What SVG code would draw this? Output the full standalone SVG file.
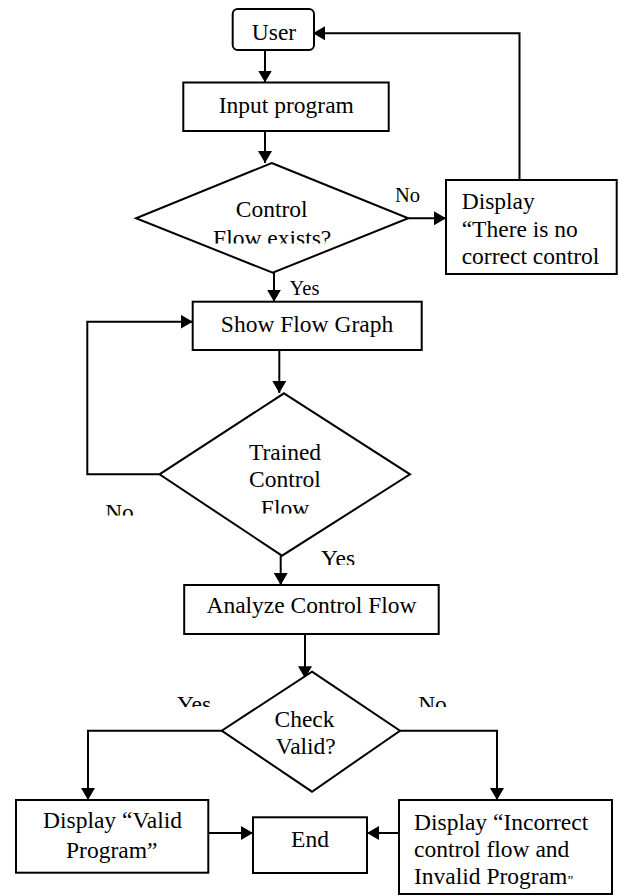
<svg xmlns="http://www.w3.org/2000/svg" width="619" height="896" viewBox="0 0 619 896">
<style>
.box{fill:#fff;stroke:#000;stroke-width:2}
.t{font-family:"Liberation Serif","Times New Roman",serif;font-size:23.5px;fill:#000}
.s{font-family:"Liberation Serif","Times New Roman",serif;font-size:20.5px;fill:#000}
.m{text-anchor:middle}
.c{fill:none;stroke:#000;stroke-width:2}
</style>
<defs>
<marker id="ah" markerUnits="userSpaceOnUse" markerWidth="13" markerHeight="14" refX="12" refY="7" orient="auto">
<path d="M0,0 L12,7 L0,14 z" fill="#000"/>
</marker>
<clipPath id="cd1"><rect x="0" y="0" width="619" height="243.5"/></clipPath>
<clipPath id="cd2"><rect x="0" y="0" width="619" height="513.5"/></clipPath>
<clipPath id="cno2"><rect x="0" y="0" width="619" height="515.5"/></clipPath>
<clipPath id="cyes2"><rect x="0" y="0" width="619" height="565"/></clipPath>
<clipPath id="cd3"><rect x="0" y="0" width="619" height="707"/></clipPath>
</defs>
<rect width="619" height="896" fill="#fff"/>

<g id="connectors">
<line class="c" x1="265" y1="50" x2="265" y2="82.5" marker-end="url(#ah)"/>
<line class="c" x1="265" y1="131" x2="265" y2="163" marker-end="url(#ah)"/>
<line class="c" x1="408.3" y1="218.3" x2="446" y2="218.3" marker-end="url(#ah)"/>
<polyline class="c" points="519.5,180 519.5,33.3 313,33.3" marker-end="url(#ah)"/>
<line class="c" x1="274" y1="272.7" x2="274" y2="301.7" marker-end="url(#ah)"/>
<line class="c" x1="279.3" y1="350" x2="279.3" y2="393" marker-end="url(#ah)"/>
<polyline class="c" points="159.5,474.3 87.3,474.3 87.3,321.7 192.7,321.7" marker-end="url(#ah)"/>
<line class="c" x1="280.7" y1="555.7" x2="280.7" y2="585" marker-end="url(#ah)"/>
<line class="c" x1="305" y1="634" x2="305" y2="678.3" marker-end="url(#ah)"/>
<polyline class="c" points="221.7,730.7 88,730.7 88,800" marker-end="url(#ah)"/>
<polyline class="c" points="400,730.7 497,730.7 497,800" marker-end="url(#ah)"/>
<line class="c" x1="203.3" y1="833" x2="253" y2="833" marker-end="url(#ah)"/>
<line class="c" x1="399" y1="833" x2="367" y2="833" marker-end="url(#ah)"/>
<text class="s m" x="407.5" y="202.3">No</text>
<text class="s m" x="304.5" y="295.3">Yes</text>
<text class="t m" x="119.5" y="519.6" clip-path="url(#cno2)">No</text>
<text class="t m" x="338" y="566" clip-path="url(#cyes2)">Yes</text>
<text class="t m" x="194" y="711.6" clip-path="url(#cd3)">Yes</text>
<text class="t m" x="432.5" y="711.6" clip-path="url(#cd3)">No</text>
</g>

<g id="user">
<rect class="box" x="232.7" y="9" width="81.3" height="41" rx="5"/>
<text class="t m" x="274" y="40">User</text>
</g>

<g id="input">
<rect class="box" x="183.3" y="82.5" width="205.4" height="48.5"/>
<text class="t m" x="286.3" y="112.7">Input program</text>
</g>

<g id="d1">
<polygon class="box" points="271.7,163 408.3,218.3 272.7,272.7 136,218.3"/>
<text class="t m" x="271.7" y="216.7">Control</text>
<text class="t m" x="272.2" y="245.6" clip-path="url(#cd1)">Flow exists?</text>
</g>

<g id="display1">
<rect class="box" x="446" y="180" width="170.7" height="94"/>
<text class="t" x="461.7" y="209.3">Display</text>
<text class="t" x="461.7" y="236.7">“There is no</text>
<text class="t" x="461.7" y="264.3">correct control</text>
</g>

<g id="showflow">
<rect class="box" x="192.7" y="301.7" width="229" height="48.3"/>
<text class="t m" x="307" y="331.7">Show Flow Graph</text>
</g>

<g id="d2">
<polygon class="box" points="284,393.3 410,474.3 282,555.7 159.5,474.3"/>
<text class="t m" x="285" y="459.5">Trained</text>
<text class="t m" x="285" y="486.7">Control</text>
<text class="t m" x="285" y="516" clip-path="url(#cd2)">Flow</text>
</g>

<g id="analyze">
<rect class="box" x="184.2" y="585" width="254.5" height="49"/>
<text class="t m" x="311.5" y="613.3">Analyze Control Flow</text>
</g>

<g id="d3">
<polygon class="box" points="312,671.7 400,730.7 312,791.7 221.7,730.7"/>
<text class="t m" x="304.5" y="726.7">Check</text>
<text class="t m" x="305.8" y="754">Valid?</text>
</g>

<g id="valid">
<rect class="box" x="16" y="800" width="192.3" height="72.7"/>
<text class="t m" x="112.5" y="828.3">Display “Valid</text>
<text class="t m" x="111.7" y="858.3">Program”</text>
</g>

<g id="end">
<rect class="box" x="253" y="817.3" width="114" height="55.7"/>
<text class="t m" x="310" y="846.7">End</text>
</g>

<g id="invalid">
<rect class="box" x="399" y="800" width="213" height="94"/>
<text class="t" x="414" y="830">Display “Incorrect</text>
<text class="t" x="414" y="857.3">control flow and</text>
<text class="t" x="414" y="884">Invalid Program<tspan font-size="13">”</tspan></text>
</g>
</svg>
